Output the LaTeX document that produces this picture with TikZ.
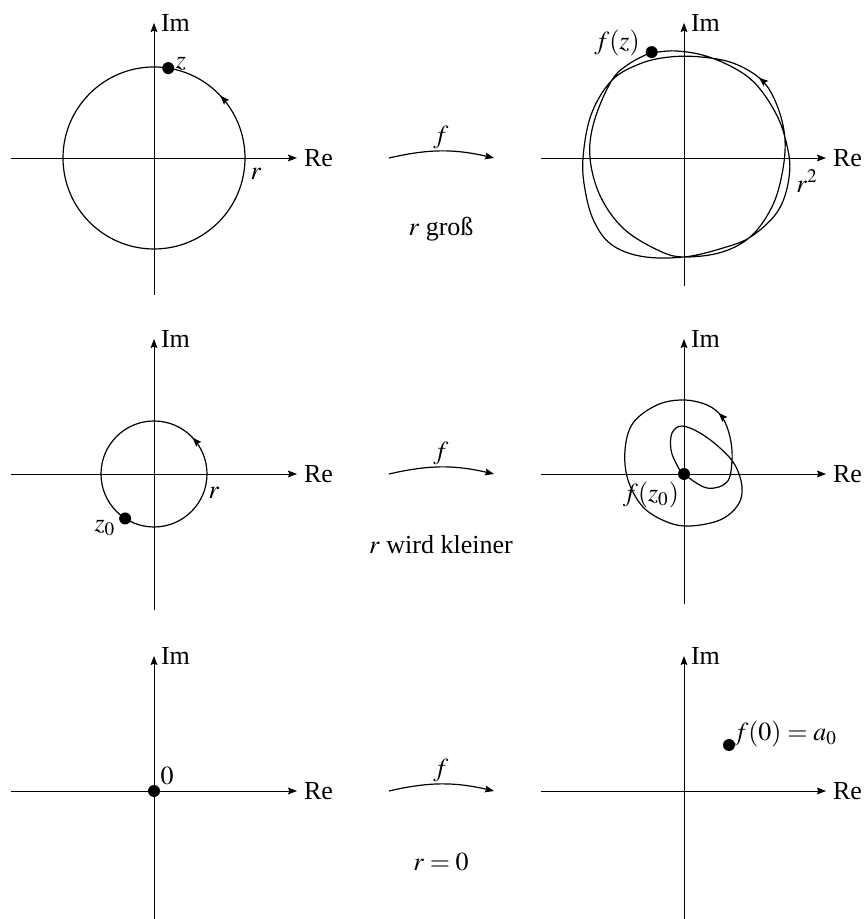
\documentclass[tikz,border=0pt]{standalone}
\usepackage{mathptmx}
\usepackage{fontspec}
\setmainfont{Liberation Serif}
\usetikzlibrary{arrows.meta,decorations.markings}
\tikzset{axhead/.tip={Stealth[length=4.5pt,width=3.4pt,inset=0.7pt]}}

\begin{document}
\begin{tikzpicture}[x=0.5pt,y=0.5pt,
    font=\fontsize{13}{15.6}\selectfont,
    axis/.style={line width=0.45pt,-axhead},
    curve/.style={line width=0.6pt},
    flow/.style={postaction={decorate},decoration={markings,mark=at position #1 with {\arrow{axhead}}}},
    dot/.style={circle,fill,inner sep=0pt,minimum size=6pt},
    maparr/.style={line width=0.6pt,-axhead}
  ]
  \useasboundingbox (0,0) rectangle (867,919);

  % axes, map arrows and captions of the three rows
  \foreach \row/\oy/\bl/\br/\capt in {1/761/137/128/{$r$ groß},2/445/136/130/{$r$ wird kleiner},3/128/130/130/{$r=0$}}{
    \coordinate (lw\row) at (11,\oy);
    \coordinate (le\row) at (297,\oy);
    \coordinate (ls\row) at (154,\oy-\bl);
    \coordinate (ln\row) at (154,\oy+135);
    \coordinate (rw\row) at (541,\oy);
    \coordinate (re\row) at (826,\oy);
    \coordinate (rs\row) at (684,\oy-\br);
    \coordinate (rn\row) at (684,\oy+135);
    \draw[axis] (lw\row) -- (le\row);
    \draw[axis] (ls\row) -- (ln\row);
    \draw[axis] (rw\row) -- (re\row);
    \draw[axis] (rs\row) -- (rn\row);
    \node[right] (lre\row) at (le\row) {Re};
    \node[right] (lim\row) at (ln\row) {Im};
    \node[right] (rre\row) at (re\row) {Re};
    \node[right] (rim\row) at (rn\row) {Im};
    \coordinate (ms\row) at (389,\oy);
    \coordinate (me\row) at (494,\oy);
    \draw[maparr] (ms\row) to[bend left=13] (me\row);
    \node (f\row) at (441,\oy+21) {$f$};
    \node (c\row) at (441,\oy-71) {\capt};
  }

  % r gross
  \begin{scope}[shift={(154,761)}]
    \draw[curve,flow=0.12] (0,0) circle[radius=91];
    \node[dot] (z) at (81:91) {};
    \node (zl) at (27,94) {$z$};
    \node (rl1) at (102,-16) {$r$};
  \end{scope}
  \begin{scope}[shift={(684,761)}]
    \draw[curve,flow=0.386] plot[smooth cycle,tension=0.6] coordinates {
      (107:110.7) (120:109) (133:106) (158:97) (180:94) (205:92) (230:93)
      (255:96) (270:99) (292:101.5) (311:103) (332:100.5) (353:99.5)
      (372:103) (390:107) (405:110) (422:107) (440:102.5) (458:102)
      (475:104) (493:106) (515:102.5) (540:101) (558:104) (575:110)
      (590:113) (607:107) (630:99) (653:98) (671:103.5) (692:108)
      (713:106.5) (732:103) (748:102) (766:103) (781:103) (799:104.5)
      (815:107.5) (827:110)};
    \node[dot] (fz) at (107:110.7) {};
    \node (fzl) at (-67,115) {$f(z)$};
    \node (r2) at (123,-23) {$r^2$};
  \end{scope}

  % r wird kleiner
  \begin{scope}[shift={(154,445)}]
    \draw[curve,flow=0.12] (0,0) circle[radius=53];
    \node[dot] (z0) at (237:53) {};
    \node (z0l) at (-49,-54) {$z_0$};
    \node (rl2) at (60,-19) {$r$};
  \end{scope}
  \begin{scope}[shift={(684,445)}]
    \draw[curve,flow=0.163] plot[smooth cycle,tension=0.6] coordinates {
      (0,0) (23,-14) (43,-8) (48,14) (46,37) (38,57) (23,69) (-1,74)
      (-27,69) (-51,51) (-59,24) (-56,-6) (-41,-33) (-17,-48) (6,-52)
      (36,-46) (54,-31) (58,-13) (51,9) (36,26) (16,41) (-2,48)
      (-12,41) (-13,24) (-7,9)};
    \node[dot] (fz0) at (0,0) {};
    \node (fz0l) at (-33,-21) {$f(z_0)$};
  \end{scope}

  % r = 0
  \begin{scope}[shift={(154,128)}]
    \node[dot] (o) at (0,0) {};
    \node (ol) at (13,15) {$0$};
  \end{scope}
  \begin{scope}[shift={(684,128)}]
    \node[dot] (a0) at (45,46) {};
    \node[anchor=west,inner sep=0pt] (a0l) at (49,57) {$f(0)=a_0$};
  \end{scope}
\end{tikzpicture}
\end{document}
